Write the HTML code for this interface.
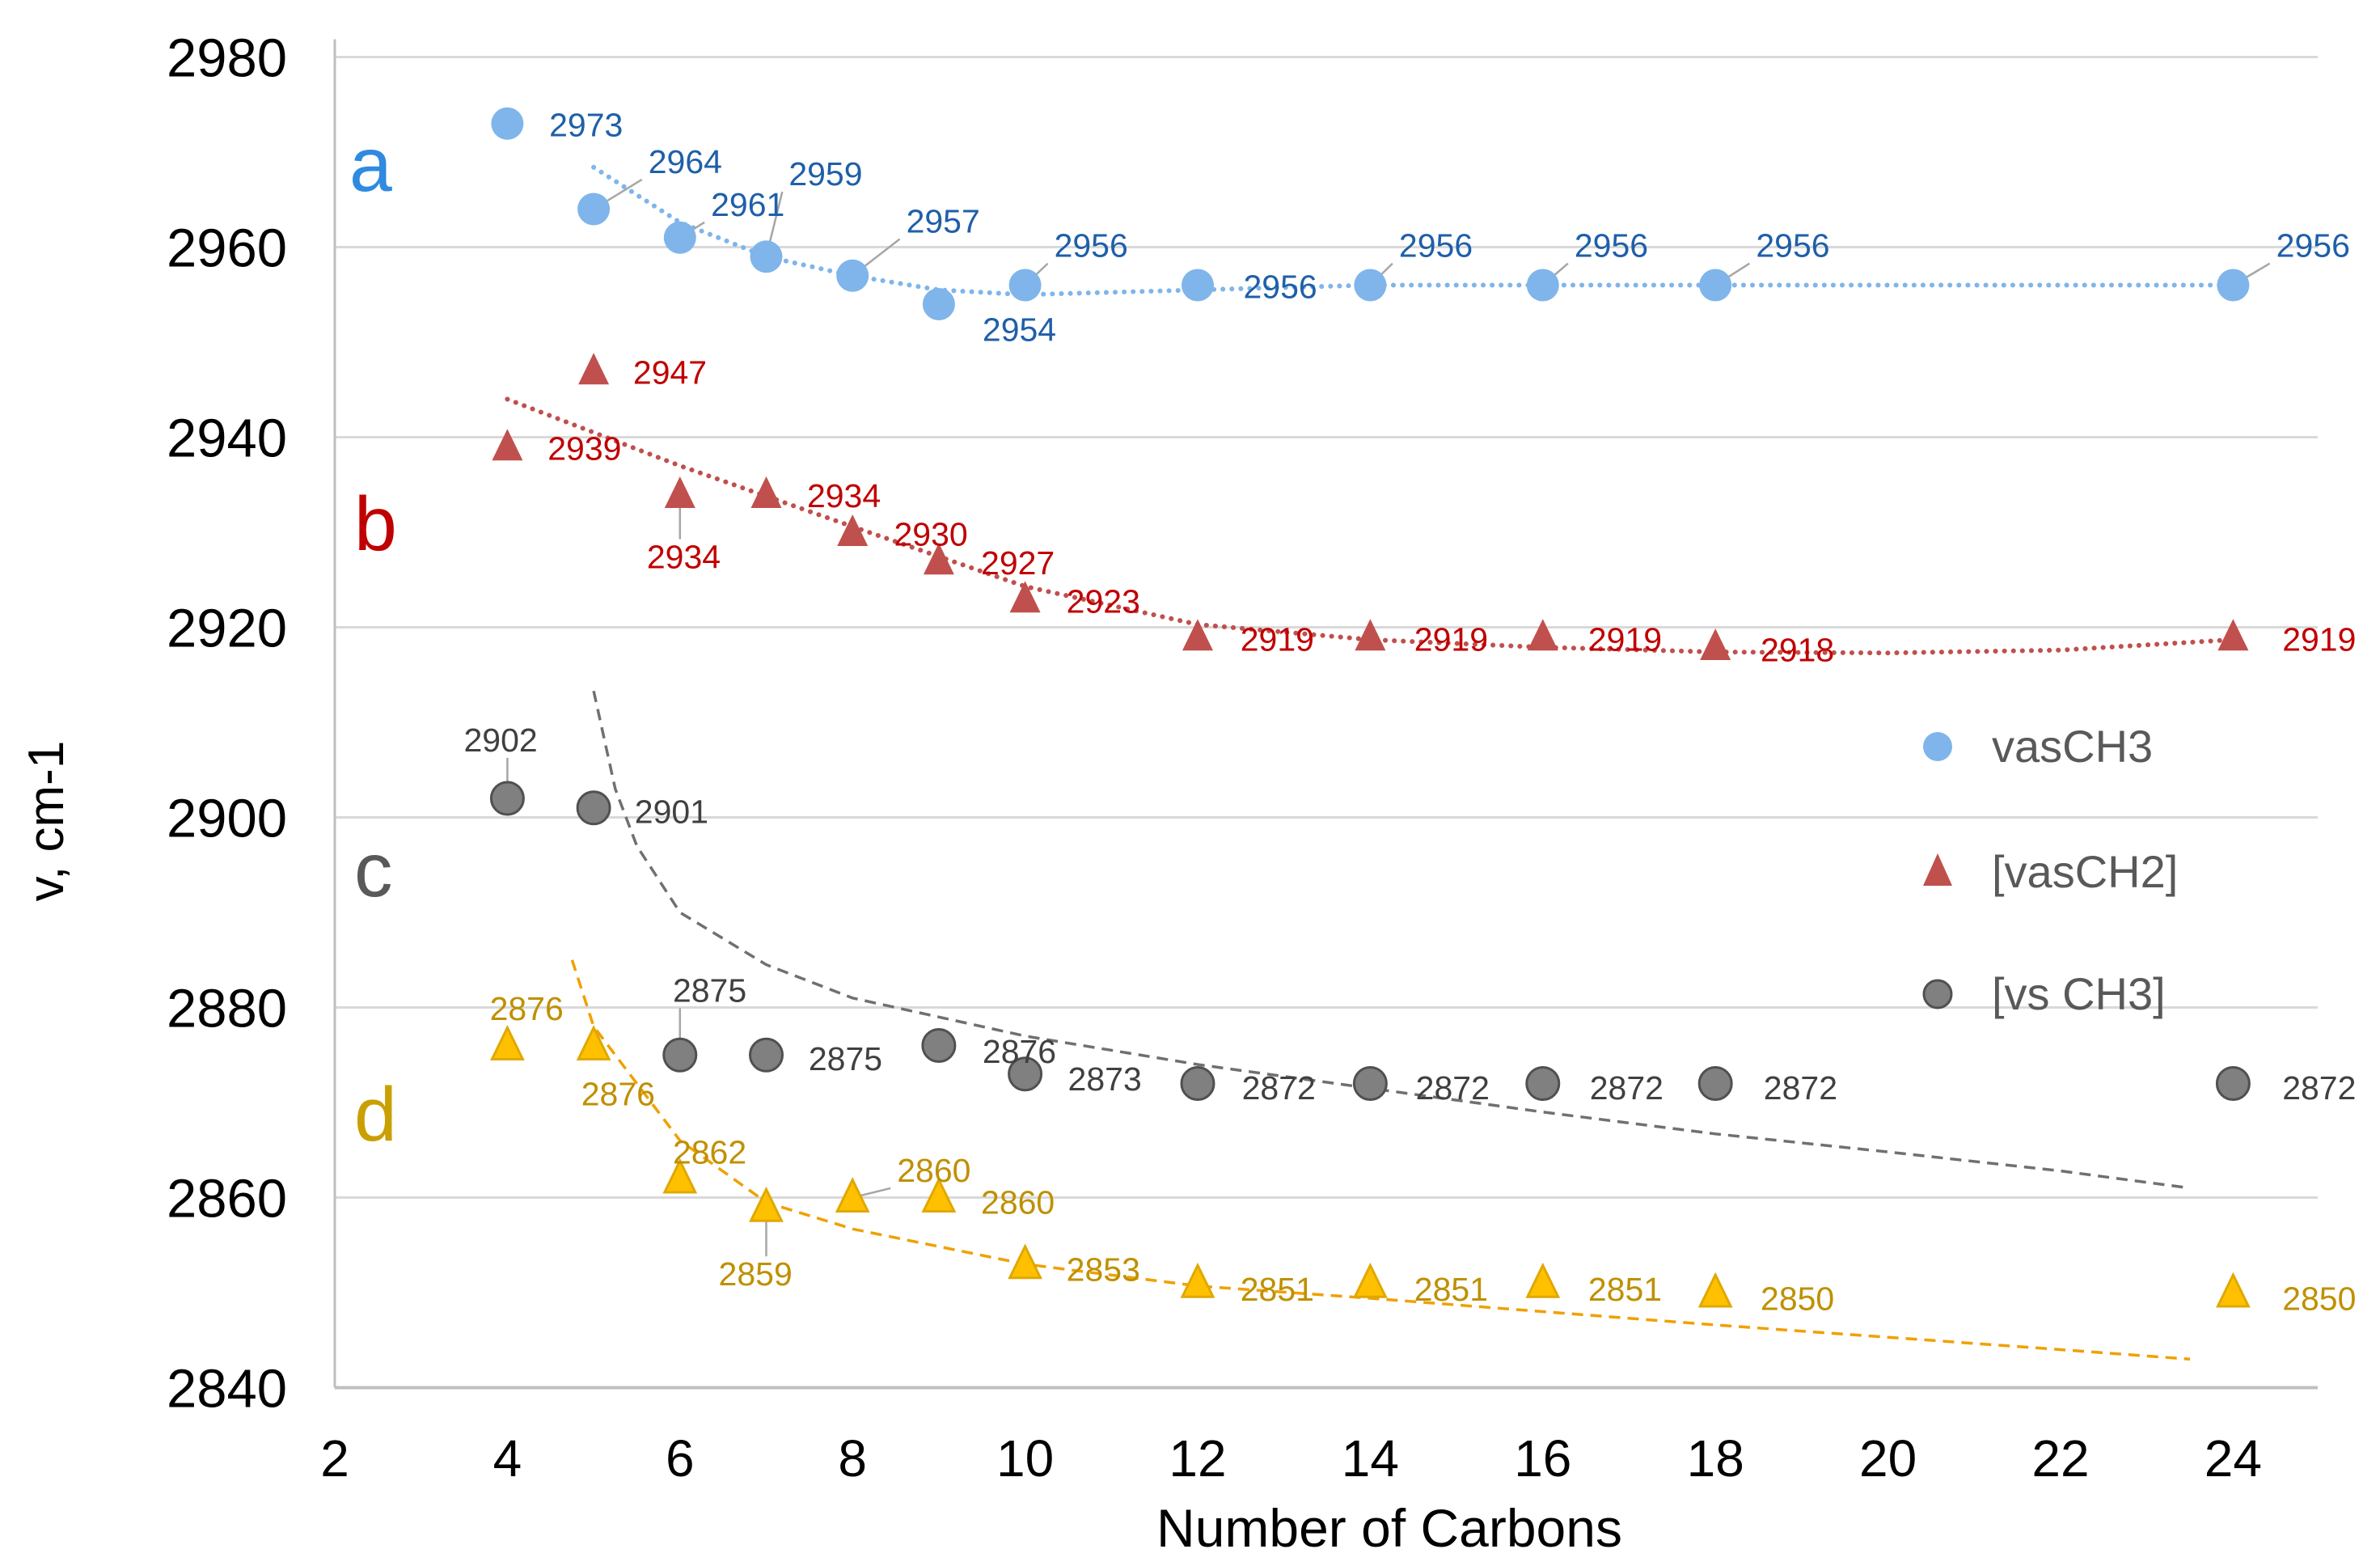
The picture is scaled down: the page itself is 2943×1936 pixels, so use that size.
<!DOCTYPE html>
<html><head><meta charset="utf-8"><style>
html,body{margin:0;padding:0;background:#fff;}
svg{display:block;font-family:"Liberation Sans",sans-serif;}
</style></head><body>
<svg id="chart" width="2943" height="1936" viewBox="0 0 2943 1936" xmlns="http://www.w3.org/2000/svg">
<g id="grid"></g>
<g id="axes"></g>
<g id="trends"></g>
<g id="leaders"></g>
<g id="marks"></g>
<g id="labels"></g>
<text x="432" y="236" font-size="95" fill="#2f8ae0">a</text>
<text x="438" y="680" font-size="95" fill="#c00000">b</text>
<text x="438" y="1108" font-size="95" fill="#595959">c</text>
<text x="438" y="1410" font-size="95" fill="#c9a000">d</text>
<text x="1718" y="1912" font-size="66" text-anchor="middle" fill="#000">Number of Carbons</text>
<text transform="translate(78,1015) rotate(-90)" font-size="62" text-anchor="middle" fill="#000">v, cm-1</text>
<g>
<circle cx="2396" cy="923" r="18" fill="#7fb5ea"/>
<text x="2463" y="942" font-size="56" fill="#595959">vasCH3</text>
<polygon points="2396,1055 2378,1095 2414,1095" fill="#c0504d"/>
<text x="2463" y="1097" font-size="56" fill="#595959">[vasCH2]</text>
<circle cx="2396" cy="1229" r="17" fill="#808080" stroke="#505050" stroke-width="3"/>
<text x="2463" y="1248" font-size="56" fill="#595959">[vs CH3]</text>
</g>
</svg>
<script>
const xTicks=[2,4,6,8,10,12,14,16,18,20,22,24];
const yTicks=[2840,2860,2880,2900,2920,2940,2960,2980];
const xA=[4,5,6,7,8,9,10,12,14,16,18,24];
const yA=[2973,2964,2961,2959,2957,2954,2956,2956,2956,2956,2956,2956];
const xB=[4,5,6,7,8,9,10,12,14,16,18,24];
const yB=[2939,2947,2934,2934,2930,2927,2923,2919,2919,2919,2918,2919];
const xC=[4,5,6,7,9,10,12,14,16,18,24];
const yC=[2902,2901,2875,2875,2876,2873,2872,2872,2872,2872,2872];
const xD=[4,5,6,7,8,9,10,12,14,16,18,24];
const yD=[2876,2876,2862,2859,2860,2860,2853,2851,2851,2851,2850,2850];
const trendAx=[5,6,7,8,9,10,12,14,16,18,20,22,24];
const trendAy=[2968.4,2962.6,2959,2957,2955.5,2955,2955.5,2956,2956,2956,2956,2956,2956];
const trendBx=[4,6,8,10,12,14,16,18,20,22,24];
const trendBy=[2944,2937,2930.6,2924.3,2920.3,2918.7,2917.9,2917.4,2917.3,2917.6,2918.7];
const trendCx=[5,5.25,5.5,6,7,8,10,12,14,16,18,20,22,23.5];
const trendCy=[2913.3,2903,2897,2890,2884.5,2881,2877,2874,2871.5,2869,2866.7,2864.8,2862.8,2861];
const trendDx=[4.75,5,6,7,8,10,12,14,16,18,20,22,23.5];
const trendDy=[2885,2878,2866,2859.5,2856.7,2853,2850.7,2849.4,2848,2846.6,2845.3,2844,2843];
// label offsets (display units, not data)
const S=1.8865;
const offA=[[360,82],[425,106],[466,134],[517,114],[594,145],[644,216],[691,161],[815,188],[917,161],[1032,161],[1151,161],[1492,161]];
const offB=[[359,294],[415,244],[424,365],[529,325],[586,350],[643,369],[699,394],[813,419],[927,419],[1041,419],[1154,426],[1496,419]];
const offC=[[304,485],[416,532],[441,649],[530,694],[644,689],[700,707],[814,713],[928,713],[1042,713],[1156,713],[1496,713]];
const offD=[[321,661],[381,717],[441,755],[471,835],[588,767],[643,788],[699,832],[813,845],[927,845],[1041,845],[1154,851],[1496,851]];

const X0=414,XU=106.7,Y0=70.5,YU=11.75,RIGHT=2866;
const X=v=>X0+(v-2)*XU;
const Y=v=>Y0+(2980-v)*YU;
const NS="http://www.w3.org/2000/svg";
function mk(tag,attrs,parent,txt){const e=document.createElementNS(NS,tag);for(const k in attrs)e.setAttribute(k,attrs[k]);if(txt!==undefined)e.textContent=txt;document.getElementById(parent).appendChild(e);return e;}

yTicks.forEach(t=>{
  const l=mk('line',{x1:X0,x2:RIGHT,y1:Y(t),y2:Y(t),stroke:'#d9d9d9','stroke-width':3},'grid');
  
  
  const tx=mk('text',{x:355,y:Y(t)+24,'font-size':67,'text-anchor':'end',fill:'#000'},'axes',String(t));
  
  
});
const ya=mk('line',{x1:X0,x2:X0,y1:Y0-22,y2:Y(2840),stroke:'#bfbfbf','stroke-width':3},'axes');


const xa=mk('line',{x1:X0,x2:RIGHT,y1:Y(2840),y2:Y(2840),stroke:'#bfbfbf','stroke-width':4},'axes');


xTicks.forEach(t=>{
  const tx=mk('text',{x:X(t),y:1825,'font-size':64,'text-anchor':'middle',fill:'#000'},'axes',String(t));
  
  
});

function trend(xs,ys,color,dash,w,name){
  const d=xs.map((x,i)=>(i?'L':'M')+X(x).toFixed(1)+','+Y(ys[i]).toFixed(1)).join(' ');
  const p=mk('path',{d:d,fill:'none',stroke:color,'stroke-width':w,'stroke-dasharray':dash,'stroke-linecap':dash.startsWith('0')?'round':'butt'},'trends');
  
  
}
trend(trendAx,trendAy,'#7fb5ea','0.1 11',6,'trendline-vasch3');
trend(trendBx,trendBy,'#c0504d','0.1 11',6,'trendline-vasch2');
trend(trendCx,trendCy,'#707070','14 9',3.5,'trendline-vsch3');
trend(trendDx,trendDy,'#f0a000','14 9',3.5,'trendline-vsch2');

function series(xs,ys,shape,fill,stroke,lblColor,offs,name,leadIdx){
  xs.forEach((x,i)=>{
    const cx=X(x),cy=Y(ys[i]);
    const lx=offs[i][0]*S,ly=offs[i][1]*S;
    if(leadIdx.includes(i)){
      const bx0=lx-8,bx1=lx+96,by0=ly-22,by1=ly+22;
      const ex=Math.min(Math.max(cx,bx0),bx1),ey=Math.min(Math.max(cy,by0),by1);
      const l=mk('line',{x1:cx,y1:cy,x2:ex,y2:ey,stroke:'#a6a6a6','stroke-width':2.5},'leaders');
      
      
    }
    let m;
    if(shape==='circle'){m=mk('circle',{cx:cx,cy:cy,r:20,fill:fill,stroke:stroke,'stroke-width':stroke==='none'?0:3},'marks');}
    else{m=mk('polygon',{points:cx+','+(cy-22)+' '+(cx-19)+','+(cy+17)+' '+(cx+19)+','+(cy+17),fill:fill,stroke:stroke,'stroke-width':stroke==='none'?0:3},'marks');}
    
    
    const t=mk('text',{x:lx,y:ly+14,'font-size':41,fill:lblColor},'labels',String(ys[i]));
    
    
  });
}
series(xA,yA,'circle','#7fb5ea','none','#1f5fa8',offA,'vasch3',[1,2,3,4,6,8,9,10,11]);
series(xB,yB,'tri','#c0504d','none','#c00000',offB,'vasch2',[2]);
series(xC,yC,'circle','#808080','#505050','#404040',offC,'vsch3',[0,2]);
series(xD,yD,'tri','#ffc000','#e0a800','#bf9000',offD,'vsch2',[0,3,4]);
</script>
</body></html>
